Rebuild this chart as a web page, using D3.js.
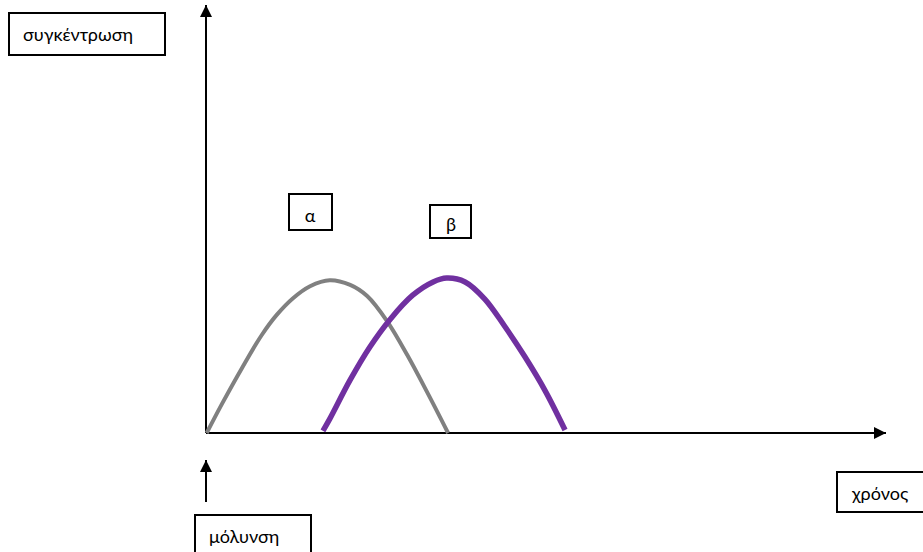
<!DOCTYPE html>
<html>
<head>
<meta charset="utf-8">
<script src="https://cdn.jsdelivr.net/npm/d3@7"></script>
<style>
  html, body { margin: 0; padding: 0; background: #fff; overflow: hidden; }
  svg { display: block; }
  .lbl { font-family: "Lato", "Open Sans", sans-serif; font-size: 18px; fill: #000; }
</style>
</head>
<body>
<svg id="chart" width="923" height="552"></svg>
<script>
// series a (grey) - time / concentration
var timeA = [0.1, 2.35, 5.3, 8.2, 10.4, 12.8, 15.3, 18.2, 21.2, 23.7, 26.6, 29.6, 32.5, 35.6];
var concA = [0, 6.8, 15.2, 22.9, 27.6, 31.5, 34.3, 35.7, 34.6, 32.0, 26.2, 18.2, 9.6, 0];

// series b (purple)
var timeB = [17.2, 18.2, 21.2, 24.1, 27.1, 30.4, 33.4, 35.4, 38.1, 41.0, 43.9, 46.9, 49.9, 52.8];
var concB = [0.5, 3.3, 12.4, 20.1, 26.6, 32.2, 35.3, 36.2, 35.3, 31.3, 25.0, 17.8, 9.8, 0.7];

var seriesNames = ['α', 'β'];
var yTitle = 'συγκέντρωση';
var xTitle = 'χρόνος';
var eventLabel = 'μόλυνση';

var svg = d3.select('#chart');

var x = d3.scaleLinear().domain([0, 100]).range([206, 886]);
var y = d3.scaleLinear().domain([0, 100]).range([433, 5]);

// arrow heads
var defs = svg.append('defs');
defs.append('marker')
    .attr('id', 'head')
    .attr('viewBox', '0 0 12 12')
    .attr('refX', 12)
    .attr('refY', 6)
    .attr('markerWidth', 12)
    .attr('markerHeight', 12)
    .attr('markerUnits', 'userSpaceOnUse')
    .attr('orient', 'auto')
    .append('path')
    .attr('d', 'M0,0 L12,6 L0,12 Z')
    .attr('fill', '#000');

// axes
svg.append('line')
    .attr('x1', x(0)).attr('y1', y(0))
    .attr('x2', x(0)).attr('y2', y(100))
    .attr('stroke', '#000').attr('stroke-width', 2)
    .attr('marker-end', 'url(#head)');

svg.append('line')
    .attr('x1', x(0)).attr('y1', y(0))
    .attr('x2', x(100)).attr('y2', y(0))
    .attr('stroke', '#000').attr('stroke-width', 2)
    .attr('marker-end', 'url(#head)');

// infection arrow under the origin
svg.append('line')
    .attr('x1', x(0)).attr('y1', 502)
    .attr('x2', x(0)).attr('y2', 460)
    .attr('stroke', '#000').attr('stroke-width', 2)
    .attr('marker-end', 'url(#head)');

var line = d3.line()
    .x(function (d) { return x(d[0]); })
    .y(function (d) { return y(d[1]); })
    .curve(d3.curveCatmullRom.alpha(0.5));

var series = [
    { pts: d3.zip(timeA, concA), color: '#808080', width: 4 },
    { pts: d3.zip(timeB, concB), color: '#7030a0', width: 5.5 }
];

svg.selectAll('path.curve')
    .data(series)
    .enter()
    .append('path')
    .attr('class', 'curve')
    .attr('d', function (d) { return line(d.pts); })
    .attr('fill', 'none')
    .attr('stroke', function (d) { return d.color; })
    .attr('stroke-width', function (d) { return d.width; })
    .attr('stroke-linecap', 'butt');

// text boxes
var boxes = [
    { text: yTitle, x: 9, y: 13, w: 156, h: 42, tx: 23, ty: 41, anchor: 'start' },
    { text: seriesNames[0], x: 289, y: 194, w: 43, h: 36, tx: 310, ty: 222, anchor: 'middle' },
    { text: seriesNames[1], x: 430, y: 205, w: 41, h: 33, tx: 451, ty: 231, anchor: 'middle' },
    { text: xTitle, x: 837, y: 472, w: 100, h: 40, tx: 852, ty: 500, anchor: 'start' },
    { text: eventLabel, x: 195, y: 515, w: 116, h: 50, tx: 209, ty: 543, anchor: 'start' }
];

var g = svg.selectAll('g.box')
    .data(boxes)
    .enter()
    .append('g')
    .attr('class', 'box');

g.append('rect')
    .attr('x', function (d) { return d.x; })
    .attr('y', function (d) { return d.y; })
    .attr('width', function (d) { return d.w; })
    .attr('height', function (d) { return d.h; })
    .attr('fill', '#fff')
    .attr('stroke', '#000')
    .attr('stroke-width', 2);

g.append('text')
    .attr('class', 'lbl')
    .attr('x', function (d) { return d.tx; })
    .attr('y', function (d) { return d.ty; })
    .attr('text-anchor', function (d) { return d.anchor; })
    .text(function (d) { return d.text; });
</script>
</body>
</html>
